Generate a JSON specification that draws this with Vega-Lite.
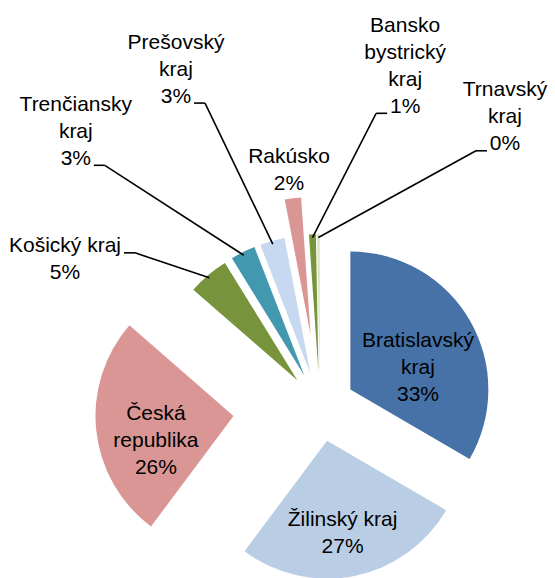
{
  "$schema": "https://vega.github.io/schema/vega-lite/v6.json",
  "width": 555,
  "height": 578,
  "autosize": {"type": "fit", "contains": "padding"},
  "padding": 0,
  "background": "white",
  "config": {"view": {"stroke": null}},
  "data": {
    "values": [
      {"name": "Bratislavský kraj", "label": "Bratislavský\nkraj", "value": 33.4},
      {"name": "Žilinský kraj", "label": "Žilinský kraj", "value": 26.8},
      {"name": "Česká republika", "label": "Česká\nrepublika", "value": 26.2},
      {"name": "Košický kraj", "label": "Košický kraj", "value": 4.8},
      {"name": "Trenčiansky kraj", "label": "Trenčiansky\nkraj", "value": 2.9},
      {"name": "Prešovský kraj", "label": "Prešovský\nkraj", "value": 2.9},
      {"name": "Rakúsko", "label": "Rakúsko", "value": 1.9},
      {"name": "Banskobystrický kraj", "label": "Bansko\nbystrický\nkraj", "value": 0.8},
      {"name": "Trnavský kraj", "label": "Trnavský\nkraj", "value": 0.3}
    ]
  },
  "transform": [
    {"window": [{"op": "row_number", "as": "idx"}, {"op": "sum", "field": "value", "as": "cum"}], "frame": [null, 0]},
    {"calculate": "datum.cum - datum.value", "as": "start"},
    {"calculate": "2*PI*(datum.cum - datum.value/2)/100", "as": "mid"},
    {"calculate": "datum.name == 'Česká republika' ? 87 : datum.name == 'Rakúsko' ? 73 : 35", "as": "explode"},
    {"calculate": "datum.explode*sin(datum.mid)", "as": "cx"},
    {"calculate": "datum.explode*cos(datum.mid)", "as": "cy"},
    {"calculate": "(datum.explode+136)*sin(datum.mid)", "as": "sx"},
    {"calculate": "(datum.explode+136)*cos(datum.mid)", "as": "sy"},
    {"calculate": "datum.label + '\\n' + format(datum.value, '.0f') + '%'", "as": "text"},
    {"calculate": "length(split(datum.text, '\\n'))", "as": "n"},
    {"calculate": "datum.value > 10 ? 'inner' : datum.explode > 50 ? 'end' : 'leader'", "as": "kind"},
    {"calculate": "(300.3 + 18.4*(datum.idx-4))*PI/180", "as": "la"},
    {"calculate": "datum.kind == 'inner' ? datum.explode + 78 : datum.kind == 'end' ? datum.explode + 168 : min(370, sin(datum.la) < 0 ? 255/(-sin(datum.la)) : 185/sin(datum.la), cos(datum.la) > 0 ? 344/cos(datum.la) : 999)", "as": "lr"},
    {"calculate": "datum.kind == 'leader' ? datum.la : datum.mid", "as": "lang"},
    {"calculate": "datum.lr*sin(datum.lang)", "as": "lx"},
    {"calculate": "datum.lr*cos(datum.lang)", "as": "ly"},
    {"calculate": "datum.ly + (datum.n-1)*13.5", "as": "ty"},
    {"calculate": "datum.lx < 0 ? 1 : -1", "as": "side"},
    {"calculate": "datum.lx + datum.side*(datum.n == 2 ? 59 : 18)", "as": "hx"},
    {"calculate": "datum.hx + datum.side*11", "as": "ex"},
    {"calculate": "datum.n == 2 ? datum.ly + 6.5 : datum.ly - (datum.n-1)*13.5 - 7", "as": "ey"}
  ],
  "layer": [
    {
      "mark": {"type": "arc", "radius": 138},
      "encoding": {
        "x": {"field": "cx", "type": "quantitative", "scale": {"domain": [-320, 235], "nice": false, "zero": false}, "axis": null},
        "y": {"field": "cy", "type": "quantitative", "scale": {"domain": [-167, 411], "nice": false, "zero": false}, "axis": null},
        "theta": {"field": "start", "type": "quantitative", "stack": null, "scale": {"domain": [0, 100]}},
        "theta2": {"field": "cum"},
        "color": {
          "field": "name",
          "type": "nominal",
          "legend": null,
          "scale": {
            "domain": ["Bratislavský kraj", "Žilinský kraj", "Česká republika", "Košický kraj", "Trenčiansky kraj", "Prešovský kraj", "Rakúsko", "Banskobystrický kraj", "Trnavský kraj"],
            "range": ["#4672A8", "#B9CDE5", "#D99694", "#77933C", "#4198AF", "#C6D9F1", "#D99694", "#77933C", "#D7E4BD"]
          }
        }
      }
    },
    {
      "transform": [{"filter": "datum.kind == 'leader'"}],
      "mark": {"type": "rule", "color": "black", "strokeWidth": 1.6},
      "encoding": {
        "x": {"field": "ex", "type": "quantitative", "axis": null},
        "y": {"field": "ey", "type": "quantitative", "axis": null},
        "x2": {"field": "sx"},
        "y2": {"field": "sy"}
      }
    },
    {
      "transform": [{"filter": "datum.kind == 'leader'"}],
      "mark": {"type": "rule", "color": "black", "strokeWidth": 1.6},
      "encoding": {
        "x": {"field": "hx", "type": "quantitative", "axis": null},
        "x2": {"field": "ex"},
        "y": {"field": "ey", "type": "quantitative", "axis": null},
        "y2": {"field": "ey"}
      }
    },
    {
      "transform": [{"filter": "datum.kind == 'inner'"}],
      "mark": {"type": "text", "font": "Liberation Sans", "fontSize": 21, "lineHeight": 27, "lineBreak": "\n", "align": "center", "baseline": "middle", "color": "black", "dy": 17},
      "encoding": {
        "x": {"field": "lx", "type": "quantitative", "axis": null},
        "y": {"field": "ty", "type": "quantitative", "axis": null},
        "text": {"field": "text"}
      }
    },
    {
      "transform": [{"filter": "datum.kind != 'inner'"}],
      "mark": {"type": "text", "font": "Liberation Sans", "fontSize": 21, "lineHeight": 27, "lineBreak": "\n", "align": "center", "baseline": "middle", "color": "black"},
      "encoding": {
        "x": {"field": "lx", "type": "quantitative", "axis": null},
        "y": {"field": "ty", "type": "quantitative", "axis": null},
        "text": {"field": "text"}
      }
    }
  ]
}
